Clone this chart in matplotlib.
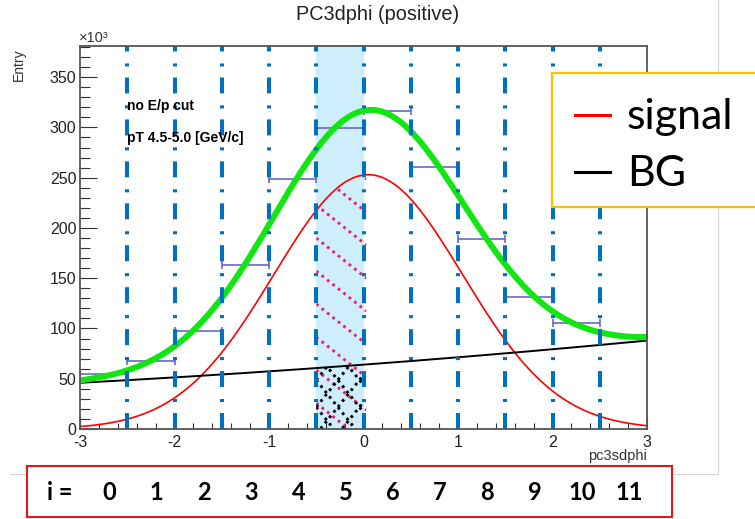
import matplotlib

matplotlib.use("Agg")
import matplotlib.pyplot as plt
import numpy as np
from matplotlib.lines import Line2D
from matplotlib.patches import Rectangle
from matplotlib.path import Path
from matplotlib.ticker import MultipleLocator
from matplotlib import transforms

plt.rcParams["lines.scale_dashes"] = False
plt.rcParams["axes.unicode_minus"] = False
plt.rcParams["font.family"] = ["Liberation Sans", "DejaVu Sans"]

# pc3sdphi bins and entries per bin (units of 10^3)
bin_edges = [-3.0, -2.5, -2.0, -1.5, -1.0, -0.5, 0.0, 0.5, 1.0, 1.5, 2.0, 2.5, 3.0]
entries = [55.0, 67.6, 97.4, 162.7, 248.8, 299.5, 316.5, 261.0, 189.5, 131.5, 105.0, 93.5]

# fit result: gaussian signal + quadratic background
signal_amp = 253.0
signal_mean = 0.05
signal_sigma = 1.0
bg_coef = [64.0, 7.0, 0.33]

highlight_bin = 5
title = "PC3dphi (positive)"
cut_labels = ["no E/p cut", "pT 4.5-5.0 [GeV/c]"]
legend_labels = ["signal", "BG"]

W, H = 755, 519


def signal(x):
    return signal_amp * np.exp(-0.5 * ((x - signal_mean) / signal_sigma) ** 2)


def background(x):
    return bg_coef[0] + bg_coef[1] * x + bg_coef[2] * x ** 2


def fx(px):
    return px / W


def fy(py):
    return 1 - py / H


def hatch(ax, x, y_low, y_high, slope_px, spacing_px, color, zorder):
    # dotted diagonal hatch lines clipped to the area between y_low and y_high
    verts = np.concatenate([np.column_stack([x, y_high]), np.column_stack([x[::-1], y_low[::-1]])])
    clip = Path(verts)
    px0, py0 = ax.transData.transform((x[0], 0))
    px1, py1 = ax.transData.transform((x[-1], max(y_high)))
    width = px1 - px0
    inv = ax.transData.inverted()
    reach = abs(slope_px) * width
    for c in np.arange(py0 - reach - spacing_px, py1 + reach + spacing_px, spacing_px):
        pts = inv.transform([(px0, c), (px1, c + slope_px * width)])
        line, = ax.plot(pts[:, 0], pts[:, 1], color=color, lw=2.1,
                        linestyle=(0, (2.0, 3.0)), zorder=zorder)
        line.set_clip_path(clip, ax.transData)


edges = np.array(bin_edges)
counts = np.array(entries)
centers = (edges[:-1] + edges[1:]) / 2
half_width = (edges[1:] - edges[:-1]) / 2

fig = plt.figure(figsize=(W / 100, H / 100), dpi=100)
ax = fig.add_axes([fx(80), fy(429), (647 - 80) / W, (429 - 46) / H])
ax.set_xlim(-3, 3)
ax.set_ylim(0, 381)

# highlighted bin
lo, hi = edges[highlight_bin], edges[highlight_bin + 1]
ax.axvspan(lo, hi, color="#cfeefb", zorder=0.5, lw=0)

# signal / background hatching inside the highlighted bin
xs = np.linspace(lo, hi + 0.03, 60)
hatch(ax, xs, np.zeros_like(xs), signal(xs), -0.8, 33, "#f0206e", 2)
xb = np.linspace(lo, hi, 60)
hatch(ax, xb, np.zeros_like(xb), background(xb), 1.25, 27, "black", 2.1)
hatch(ax, xb, np.zeros_like(xb), background(xb), -1.25, 27, "black", 2.1)

# histogram drawn as bin-width bars
ax.errorbar(centers, counts, xerr=half_width, fmt="none", ecolor="#5b5bc8",
            elinewidth=1.1, capsize=3, capthick=1.1, zorder=3)

x_fit = np.linspace(-3, 3, 400)
ax.plot(x_fit, signal(x_fit), color="#ff0000", lw=1.2, zorder=3.5)
ax.plot(x_fit, background(x_fit), color="black", lw=1.4, zorder=3.5)
ax.plot(x_fit, signal(x_fit) + background(x_fit), color="#11e611", lw=4.3, zorder=4)

# bin boundaries
for e in edges[1:-1]:
    ax.plot([e, e], [0, 381], color="#0070c0", lw=2.9,
            linestyle=(0, (11.5, 7.9, 2.2, 8.6)), zorder=5)

ax.xaxis.set_major_locator(MultipleLocator(1))
ax.xaxis.set_minor_locator(MultipleLocator(0.2))
ax.yaxis.set_major_locator(MultipleLocator(50))
ax.yaxis.set_minor_locator(MultipleLocator(10))
ax.tick_params(axis="both", which="both", direction="in", colors="#333333",
               labelcolor="#222222", labelsize=11.5, width=0.8)
ax.tick_params(axis="x", which="major", length=8.3, pad=4.5)
ax.tick_params(axis="x", which="minor", length=4.3)
ax.tick_params(axis="y", which="major", length=12.2, pad=2.5)
ax.tick_params(axis="y", which="minor", length=7.2)
for s in ax.spines.values():
    s.set_color("#555555")
    s.set_linewidth(1.3)
    s.set_zorder(6)

fig.text(fx(378), fy(15), title, ha="center", va="center", fontsize=14.3, color="#222222")
fig.text(fx(79), fy(38), "×10³", ha="left", va="center", fontsize=10.5, color="#333333")
fig.text(fx(19), fy(65), "Entry", ha="center", va="center", rotation=90, fontsize=10, color="#333333")
fig.text(fx(647), fy(456), "pc3sdphi", ha="right", va="center", fontsize=10.5, color="#333333")
fig.text(fx(127), fy(106), cut_labels[0], ha="left", va="center", fontsize=10, fontweight="bold")
fig.text(fx(127), fy(138), cut_labels[1], ha="left", va="center", fontsize=10, fontweight="bold")

# canvas border
fig.add_artist(Line2D([fx(718), fx(718)], [fy(0), fy(474)], color="#d4d4d4", lw=0.8))
fig.add_artist(Line2D([fx(10), fx(718)], [fy(474), fy(474)], color="#d4d4d4", lw=0.8))

# legend box
fig.add_artist(Rectangle((fx(552), fy(207)), (770 - 552) / W, (207 - 73) / H,
                         transform=fig.transFigure, facecolor="white", edgecolor="#ffc000",
                         lw=1.6, zorder=10, clip_on=False))
for color, label, py in zip(["#ff0000", "black"], legend_labels, [115, 172]):
    fig.add_artist(Line2D([fx(575), fx(610)], [fy(py), fy(py)], color=color, lw=2.2, zorder=11))
    fig.text(fx(627), fy(py + 2), label, ha="left", va="center", fontsize=31,
             family=["Lato", "DejaVu Sans"], zorder=11)

# bin index box
fig.add_artist(Rectangle((fx(27), fy(517)), (672 - 27) / W, (517 - 466) / H,
                         transform=fig.transFigure, facecolor="white", edgecolor="#e8141c",
                         lw=1.5, zorder=10))
fig.text(fx(60), fy(492), "i =", ha="center", va="center", fontsize=17,
         fontweight="bold", family=["Lato", "DejaVu Sans"], zorder=11)
blend = transforms.blended_transform_factory(ax.transData, fig.transFigure)
for i, c in enumerate(centers):
    fig.text(c + 0.06, fy(492), str(i), transform=blend, ha="center", va="center",
             fontsize=17, fontweight="bold", family=["Lato", "DejaVu Sans"], zorder=11)

fig.savefig("out.png", dpi=100)
